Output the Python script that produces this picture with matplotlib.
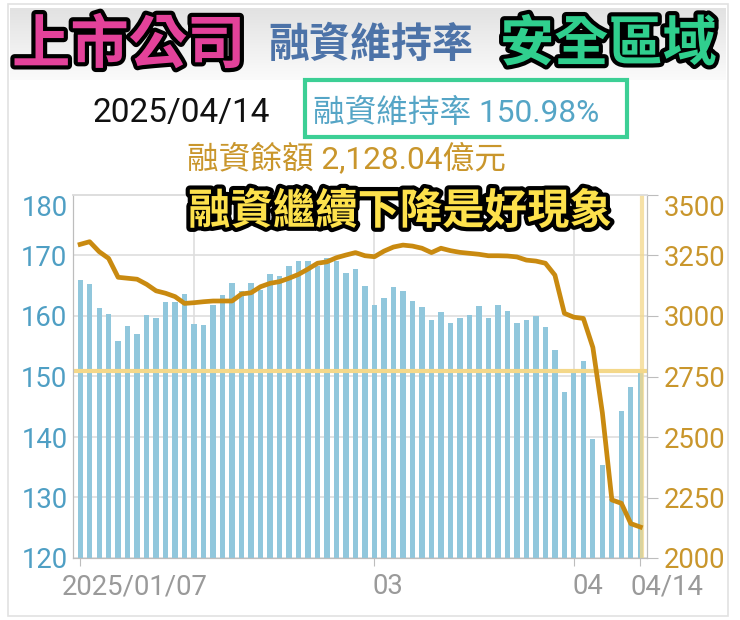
import matplotlib
matplotlib.use('Agg')
import matplotlib.pyplot as plt
import matplotlib.patheffects as pe
import matplotlib.transforms as mtransforms
from matplotlib.patches import Rectangle
from matplotlib.colors import LinearSegmentedColormap
import numpy as np

plt.rcParams['font.family'] = ['Roboto', 'Noto Sans CJK TC', 'DejaVu Sans']

# ---------------- data ----------------
dates = (
    ['01/07', '01/08', '01/09', '01/10', '01/13', '01/14', '01/15', '01/16', '01/17',
     '01/20', '01/21', '01/22'] +
    ['02/03', '02/04', '02/05', '02/06', '02/07', '02/10', '02/11', '02/12', '02/13',
     '02/14', '02/17', '02/18', '02/19', '02/20', '02/21', '02/24', '02/25', '02/26', '02/27'] +
    ['03/03', '03/04', '03/05', '03/06', '03/07', '03/10', '03/11', '03/12', '03/13',
     '03/14', '03/17', '03/18', '03/19', '03/20', '03/21', '03/24', '03/25', '03/26',
     '03/27', '03/28', '03/31'] +
    ['04/01', '04/02', '04/07', '04/08', '04/09', '04/10', '04/11', '04/14']
)

maintenance_ratio = [
    165.9, 165.3, 161.3, 160.3, 155.8, 158.3, 157.0, 160.1, 159.7, 162.3,
    162.3, 163.6, 158.7, 158.5, 161.8, 163.4, 165.4, 164.2, 165.4, 164.3,
    166.9, 166.6, 168.2, 169.1, 169.1, 168.2, 169.6, 169.1, 167.1, 167.7,
    164.9, 161.8, 163.0, 164.8, 164.1, 162.4, 161.5, 159.4, 160.6, 158.8,
    159.7, 160.1, 161.7, 159.7, 161.9, 160.8, 158.9, 159.4, 160.0, 158.1,
    154.4, 147.4, 151.2, 152.6, 139.6, 135.4, 129.8, 144.3, 148.3, 150.98,
]

margin_balance = [
    3296, 3307, 3266, 3238, 3160, 3156, 3152, 3131, 3104, 3094,
    3080, 3052, 3055, 3059, 3062, 3062, 3062, 3091, 3096, 3121,
    3135, 3142, 3156, 3172, 3194, 3218, 3224, 3241, 3252, 3262,
    3249, 3245, 3268, 3285, 3293, 3289, 3280, 3262, 3280, 3270,
    3263, 3259, 3255, 3249, 3249, 3248, 3244, 3231, 3227, 3218,
    3169, 3011, 2995, 2990, 2870, 2600, 2240, 2226, 2142, 2128.04,
]

left_ticks = [120, 130, 140, 150, 160, 170, 180]
right_ticks = [2000, 2250, 2500, 2750, 3000, 3250, 3500]

title_left = '上市公司'
title_mid = '融資維持率'
title_right = '安全區域'
date_label = '2025/04/14'
ratio_label = '融資維持率 150.98%'
balance_label = '融資餘額 2,128.04億元'
comment = '融資繼續下降是好現象'

# ---------------- figure ----------------
W, H = 740, 620
fig = plt.figure(figsize=(W / 100, H / 100), dpi=100)
fig.patch.set_facecolor('white')

def fx(px):
    return px / W

def fy(py):
    return 1 - py / H

# outer frame
fig.patches.append(Rectangle((fx(8), fy(616)), fx(728) - fx(8), fy(4) - fy(616),
                             transform=fig.transFigure, fill=False,
                             edgecolor='#e2e2e2', lw=1.2))

# banner gradient
bax = fig.add_axes([fx(10), fy(80), fx(716), fy(8) - fy(80)])
grad = np.linspace(0, 1, 100).reshape(-1, 1)
cm = LinearSegmentedColormap.from_list('g', ['#e2e2e2', '#fbfbfb'])
bax.imshow(grad, aspect='auto', cmap=cm, extent=[0, 1, 0, 1])
bax.set_axis_off()

stroke_black = [pe.withStroke(linewidth=6, foreground='black')]
fig.text(fx(12), fy(46), title_left, fontsize=42, fontweight='bold', color='#e3429a',
         ha='left', va='center', family=['Noto Sans CJK TC'], path_effects=stroke_black)
fig.text(fx(268), fy(45), title_mid, fontsize=29.5, fontweight='bold', color='#4d73a8',
         ha='left', va='center', family=['Noto Sans CJK TC'])
fig.text(fx(500), fy(45), title_right, fontsize=39, fontweight='bold', color='#30cf8e',
         ha='left', va='center', family=['Noto Sans CJK TC'], path_effects=stroke_black)

fig.text(fx(92), fy(113), date_label, fontsize=24, color='#111111', ha='left', va='center')
fig.patches.append(Rectangle((fx(305), fy(137)), fx(627) - fx(305), fy(80) - fy(137),
                             transform=fig.transFigure, fill=False,
                             edgecolor='#3ccf95', lw=3))
fig.text(fx(313), fy(113), ratio_label, fontsize=22.8, color='#55a5c6', ha='left', va='center')
fig.text(fx(187), fy(158), balance_label, fontsize=22.8, color='#c9962c', ha='left', va='center')

# ---------------- chart ----------------
x = np.arange(len(dates))
ax = fig.add_axes([fx(73), fy(558), fx(647) - fx(73), fy(195) - fy(558)])
ax2 = ax.twinx()

ax.set_axisbelow(True)
ax.bar(x, maintenance_ratio, width=0.55, color='#91c7dc', zorder=2)
ax.set_ylim(left_ticks[0], left_ticks[-1])
ax.set_xlim(-0.75, len(dates) - 0.3)
ax.set_yticks(left_ticks)
ax.yaxis.grid(True, color='#dedede', lw=1.2)

# month-start vertical gridlines
month_starts = [i for i in range(1, len(dates)) if dates[i][:2] != dates[i - 1][:2]]
for i in month_starts:
    ax.axvline(x[i], color='#dedede', lw=1.2, zorder=1)

# crosshair horizontal
ax.axhline(maintenance_ratio[-1], color='#f4d88a', lw=3, zorder=3)

ax2.set_ylim(right_ticks[0], right_ticks[-1])
ax2.set_yticks(right_ticks)
ax2.axvline(x[-1] + 0.2, color='#f4d88a', lw=3, alpha=0.75, zorder=1)
ax2.plot(x, margin_balance, color='#c98a10', lw=3.4, solid_joinstyle='round', zorder=3)

# ticks
tick_idx = [0, dates.index('03/03'), dates.index('04/01'), len(dates) - 1]
tick_txt = ['2025/' + dates[0], '03', '04', dates[-1]]
ax.set_xticks([x[i] for i in tick_idx])
ax.set_xticklabels(tick_txt)
ax.tick_params(axis='x', length=6, color='#bdbdbd', labelsize=19.8, labelcolor='#9a9a9a', pad=5)
ax.tick_params(axis='y', length=0, labelsize=19.8, labelcolor='#4f9fc4', pad=4)
ax2.tick_params(axis='y', length=8, color='#bdbdbd', labelsize=19.8, labelcolor='#c9962c', pad=4)

offsets = [-18, -2, -1, -10]
for lab, off in zip(ax.get_xticklabels(), offsets):
    lab.set_ha('left')
    lab.set_transform(lab.get_transform() + mtransforms.ScaledTranslation(off / 100, 0, fig.dpi_scale_trans))

ax.get_yticklabels()[-1].set_va('top')
ax2.get_yticklabels()[-1].set_va('top')

for a in (ax, ax2):
    a.spines['top'].set_color('#dedede')
    a.spines['left'].set_color('#bdbdbd')
    a.spines['right'].set_color('#bdbdbd')
    a.spines['bottom'].set_color('#bdbdbd')
    a.spines['top'].set_linewidth(1.2)

# overlay comment
fig.text(fx(400), fy(212), comment, fontsize=30.5, fontweight='bold', color='#fde14c',
         ha='center', va='center', family=['Noto Sans CJK TC'],
         path_effects=[pe.withStroke(linewidth=6, foreground='black')])

fig.savefig('out.png', dpi=100)
